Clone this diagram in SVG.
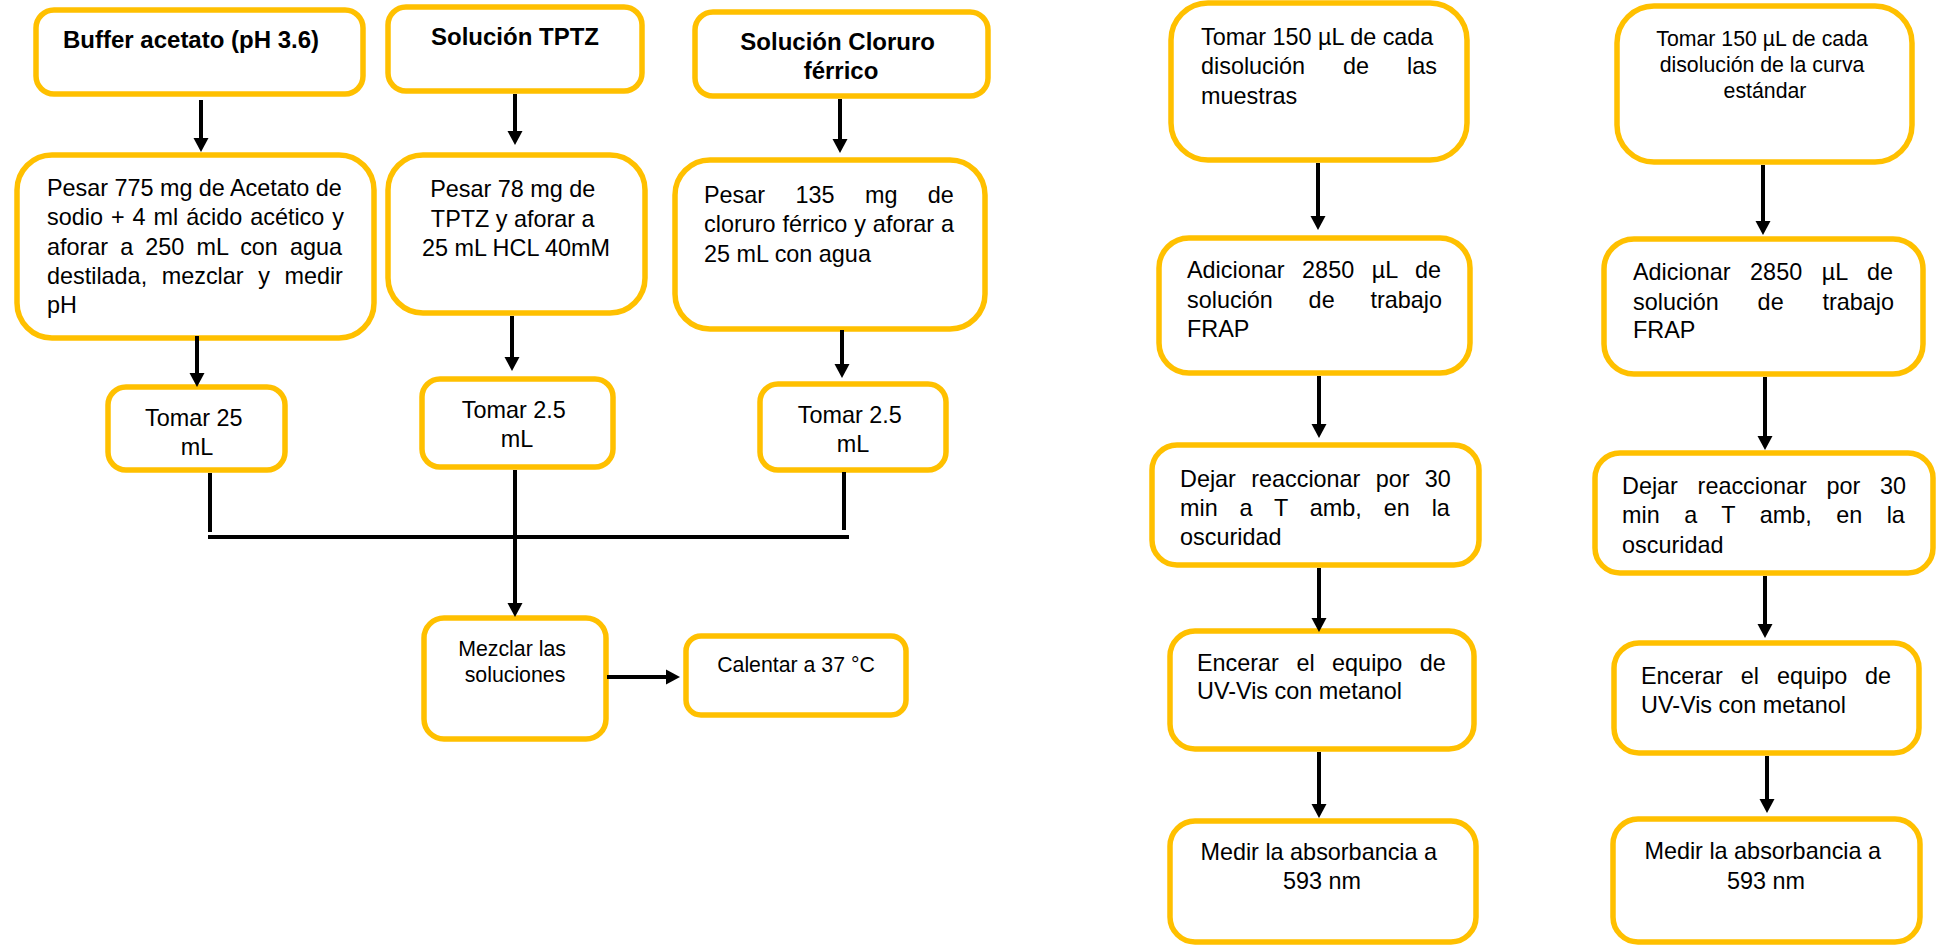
<svg xmlns="http://www.w3.org/2000/svg" width="1937" height="946" viewBox="0 0 1937 946">
  <defs>
    <style>
      .box { fill: #ffffff; stroke: #FFC000; stroke-width: 5.5; }
      .t { font-family: "Liberation Sans", Arial, sans-serif; font-size: 23.4px; fill: #000000; }
      .tb { font-family: "Liberation Sans", Arial, sans-serif; font-size: 24px; font-weight: bold; fill: #000000; }
      .ts { font-family: "Liberation Sans", Arial, sans-serif; font-size: 21.3px; fill: #000000; }
      .c { text-anchor: middle; }
      .ln { stroke: #000000; stroke-width: 4; fill: none; }
      .arr { stroke: #000000; stroke-width: 4; fill: none; marker-end: url(#head); }
    </style>
    <marker id="head" markerUnits="userSpaceOnUse" markerWidth="16" markerHeight="16" refX="0" refY="8" orient="auto" viewBox="0 0 16 16">
      <path d="M0,0.5 L14,8 L0,15.5 Z" fill="#000000"/>
    </marker>
  </defs>
  <rect width="1937" height="946" fill="#ffffff"/>

  <!-- Reagent preparation: acetate buffer -->
  <g id="buffer">
    <rect class="box" x="36" y="10" width="327" height="84" rx="18"/>
    <text class="tb" x="63" y="48">Buffer acetato (pH 3.6)</text>
  </g>
  <g id="pesar-acetato">
    <rect class="box" x="17" y="155" width="357" height="183" rx="35"/>
    <text class="t">
      <tspan x="47" y="196" style="word-spacing:-0.1px">Pesar 775 mg de Acetato de</tspan>
      <tspan x="47" y="225.25" style="word-spacing:1.5px">sodio + 4 ml ácido acético y</tspan>
      <tspan x="47" y="254.5" style="word-spacing:5.6px">aforar a 250 mL con agua</tspan>
      <tspan x="47" y="283.75" style="word-spacing:8.07px">destilada, mezclar y medir</tspan>
      <tspan x="47" y="313">pH</tspan>
    </text>
  </g>
  <g id="tomar-25">
    <rect class="box" x="108" y="387" width="177" height="83" rx="18"/>
    <text class="t c">
      <tspan x="197" y="426">Tomar 25</tspan>
      <tspan x="197" y="455">mL</tspan>
    </text>
  </g>

  <!-- Reagent preparation: TPTZ -->
  <g id="tptz">
    <rect class="box" x="388" y="7" width="254" height="84" rx="18"/>
    <text class="tb c" x="515" y="45">Solución TPTZ</text>
  </g>
  <g id="pesar-tptz">
    <rect class="box" x="388" y="155" width="257" height="158" rx="35"/>
    <text class="t c">
      <tspan x="516" y="197">Pesar 78 mg de</tspan>
      <tspan x="516" y="227">TPTZ y aforar a</tspan>
      <tspan x="516" y="256">25 mL HCL 40mM</tspan>
    </text>
  </g>
  <g id="tomar-tptz">
    <rect class="box" x="422" y="379" width="191" height="88" rx="18"/>
    <text class="t c">
      <tspan x="517" y="418">Tomar 2.5</tspan>
      <tspan x="517" y="447">mL</tspan>
    </text>
  </g>

  <!-- Reagent preparation: ferric chloride -->
  <g id="cloruro">
    <rect class="box" x="695" y="12" width="293" height="84" rx="18"/>
    <text class="tb c">
      <tspan x="841" y="50">Solución Cloruro</tspan>
      <tspan x="841" y="79">férrico</tspan>
    </text>
  </g>
  <g id="pesar-cloruro">
    <rect class="box" x="675" y="160" width="310" height="169" rx="35"/>
    <text class="t">
      <tspan x="704" y="203" style="word-spacing:23.9px">Pesar 135 mg de</tspan>
      <tspan x="704" y="232" style="word-spacing:0.4px">cloruro férrico y aforar a</tspan>
      <tspan x="704" y="262">25 mL con agua</tspan>
    </text>
  </g>
  <g id="tomar-cloruro">
    <rect class="box" x="760" y="384" width="186" height="86" rx="18"/>
    <text class="t c">
      <tspan x="853" y="423">Tomar 2.5</tspan>
      <tspan x="853" y="452">mL</tspan>
    </text>
  </g>

  <!-- Mixing and heating -->
  <g id="mezclar">
    <rect class="box" x="424" y="618" width="182" height="121" rx="20"/>
    <text class="ts c">
      <tspan x="515" y="656">Mezclar las</tspan>
      <tspan x="515" y="682">soluciones</tspan>
    </text>
  </g>
  <g id="calentar">
    <rect class="box" x="686" y="636" width="220" height="79" rx="15"/>
    <text class="ts c" x="796" y="672">Calentar a 37 °C</text>
  </g>

  <!-- Samples sequence -->
  <g id="muestras-tomar">
    <rect class="box" x="1171" y="3" width="296" height="157" rx="37"/>
    <text class="t">
      <tspan x="1201" y="45">Tomar 150 µL de cada</tspan>
      <tspan x="1201" y="74" style="word-spacing:31.5px">disolución de las</tspan>
      <tspan x="1201" y="104">muestras</tspan>
    </text>
  </g>
  <g id="muestras-adicionar">
    <rect class="box" x="1159" y="238" width="311" height="135" rx="30"/>
    <text class="t">
      <tspan x="1187" y="278" style="word-spacing:11.1px">Adicionar 2850 µL de</tspan>
      <tspan x="1187" y="308" style="word-spacing:29.3px">solución de trabajo</tspan>
      <tspan x="1187" y="337">FRAP</tspan>
    </text>
  </g>
  <g id="muestras-reaccionar">
    <rect class="box" x="1152" y="445" width="327" height="120" rx="25"/>
    <text class="t">
      <tspan x="1180" y="487" style="word-spacing:8.8px">Dejar reaccionar por 30</tspan>
      <tspan x="1180" y="516" style="word-spacing:15.4px">min a T amb, en la</tspan>
      <tspan x="1180" y="545">oscuridad</tspan>
    </text>
  </g>
  <g id="muestras-encerar">
    <rect class="box" x="1170" y="631" width="304" height="118" rx="25"/>
    <text class="t">
      <tspan x="1197" y="671" style="word-spacing:11px">Encerar el equipo de</tspan>
      <tspan x="1197" y="699">UV-Vis con metanol</tspan>
    </text>
  </g>
  <g id="muestras-medir">
    <rect class="box" x="1170" y="821" width="306" height="121" rx="25"/>
    <text class="t c">
      <tspan x="1322" y="860">Medir la absorbancia a</tspan>
      <tspan x="1322" y="889">593 nm</tspan>
    </text>
  </g>

  <!-- Standard curve sequence -->
  <g id="curva-tomar">
    <rect class="box" x="1617" y="6" width="295" height="156" rx="37"/>
    <text class="ts c">
      <tspan x="1765" y="46">Tomar 150 µL de cada</tspan>
      <tspan x="1765" y="72">disolución de la curva</tspan>
      <tspan x="1765" y="98">estándar</tspan>
    </text>
  </g>
  <g id="curva-adicionar">
    <rect class="box" x="1604" y="239" width="319" height="135" rx="30"/>
    <text class="t">
      <tspan x="1633" y="280" style="word-spacing:13.1px">Adicionar 2850 µL de</tspan>
      <tspan x="1633" y="310" style="word-spacing:32.3px">solución de trabajo</tspan>
      <tspan x="1633" y="338">FRAP</tspan>
    </text>
  </g>
  <g id="curva-reaccionar">
    <rect class="box" x="1595" y="453" width="338" height="120" rx="25"/>
    <text class="t">
      <tspan x="1622" y="494" style="word-spacing:13.2px">Dejar reaccionar por 30</tspan>
      <tspan x="1622" y="523" style="word-spacing:18px">min a T amb, en la</tspan>
      <tspan x="1622" y="553">oscuridad</tspan>
    </text>
  </g>
  <g id="curva-encerar">
    <rect class="box" x="1614" y="643" width="305" height="110" rx="25"/>
    <text class="t">
      <tspan x="1641" y="684" style="word-spacing:11.4px">Encerar el equipo de</tspan>
      <tspan x="1641" y="713">UV-Vis con metanol</tspan>
    </text>
  </g>
  <g id="curva-medir">
    <rect class="box" x="1613" y="819" width="307" height="123" rx="25"/>
    <text class="t c">
      <tspan x="1766" y="859">Medir la absorbancia a</tspan>
      <tspan x="1766" y="889">593 nm</tspan>
    </text>
  </g>

  <!-- Connectors -->
  <g id="connectors">
    <line class="arr" x1="201" y1="100" x2="201" y2="138"/>
    <line class="arr" x1="197" y1="336" x2="197" y2="373"/>
    <line class="arr" x1="515" y1="94" x2="515" y2="131"/>
    <line class="arr" x1="512" y1="316" x2="512" y2="357"/>
    <line class="arr" x1="840" y1="99" x2="840" y2="139"/>
    <line class="arr" x1="842" y1="330" x2="842" y2="364"/>

    <line class="ln" x1="210" y1="473" x2="210" y2="532"/>
    <line class="ln" x1="844" y1="472" x2="844" y2="530"/>
    <line class="ln" x1="208" y1="537" x2="849" y2="537"/>
    <line class="arr" x1="515" y1="470" x2="515" y2="603"/>
    <line class="arr" x1="607" y1="677" x2="666" y2="677"/>

    <line class="arr" x1="1318" y1="163" x2="1318" y2="216"/>
    <line class="arr" x1="1319" y1="376" x2="1319" y2="424"/>
    <line class="arr" x1="1319" y1="568" x2="1319" y2="618"/>
    <line class="arr" x1="1319" y1="752" x2="1319" y2="804"/>

    <line class="arr" x1="1763" y1="165" x2="1763" y2="221"/>
    <line class="arr" x1="1765" y1="377" x2="1765" y2="436"/>
    <line class="arr" x1="1765" y1="576" x2="1765" y2="624"/>
    <line class="arr" x1="1767" y1="756" x2="1767" y2="799"/>
  </g>
</svg>
